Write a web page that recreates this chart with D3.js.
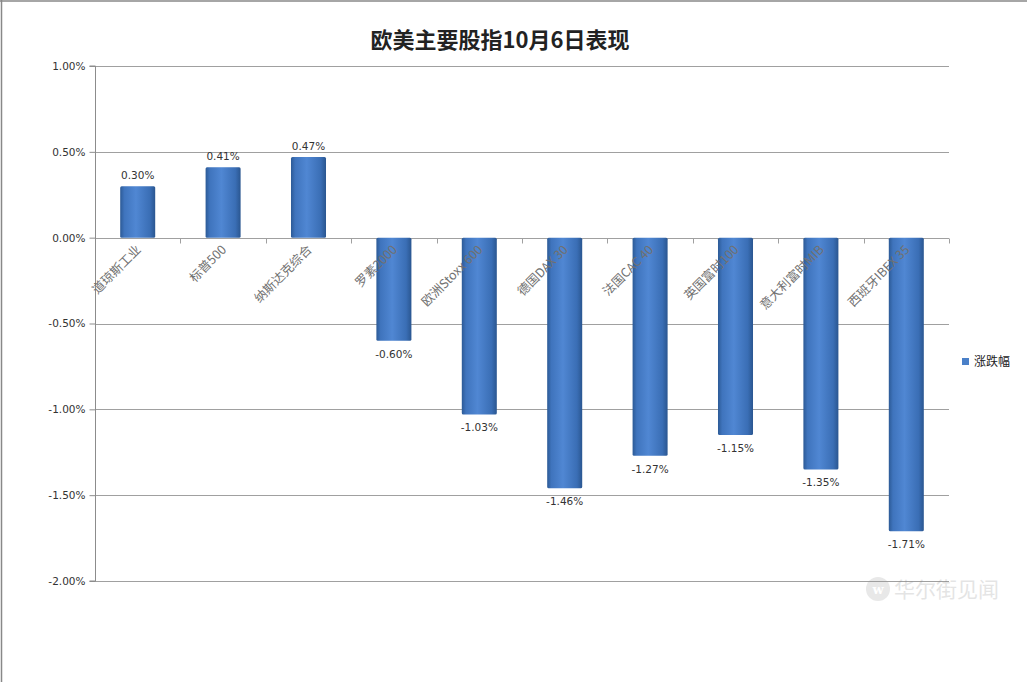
<!DOCTYPE html>
<html>
<head>
<meta charset="utf-8">
<script src="https://cdn.jsdelivr.net/npm/d3@7"></script>
<style>
  body { margin: 0; background: #fff; }
  svg { display: block; }
</style>
</head>
<body>
<svg id="chart" width="1027" height="682"></svg>
<script>
const categories = ["道琼斯工业", "标普500", "纳斯达克综合", "罗素2000", "欧洲Stoxx 600",
    "德国DAX 30", "法国CAC 40", "英国富时100", "意大利富时MIB", "西班牙IBEX 35"];
const changes = [0.30, 0.41, 0.47, -0.60, -1.03, -1.46, -1.27, -1.15, -1.35, -1.71];
const yTicks = [1.0, 0.5, 0, -0.5, -1.0, -1.5, -2.0];
const seriesName = "涨跌幅";
const title = "欧美主要股指10月6日表现";

const W = 1027, H = 682;
const PLOT_LEFT = 95, PLOT_RIGHT = 949, PLOT_TOP = 66, PLOT_BOTTOM = 581;

// plain hyphen instead of d3's unicode minus
const pct = d3.formatLocale({ decimal: ".", thousands: ",", grouping: [3], currency: ["", ""], minus: "-" })
    .format(".2f");
const fmtPct = d => pct(d) + "%";

const svg = d3.select("#chart");

// gradient for the bars (lighter centre, darker edges)
const defs = svg.append("defs");
const grad = defs.append("linearGradient").attr("id", "barGrad")
    .attr("x1", "0%").attr("x2", "100%").attr("y1", "0%").attr("y2", "0%");
grad.append("stop").attr("offset", "0%").attr("stop-color", "#2c5a96");
grad.append("stop").attr("offset", "12%").attr("stop-color", "#3f74bd");
grad.append("stop").attr("offset", "45%").attr("stop-color", "#5087d3");
grad.append("stop").attr("offset", "85%").attr("stop-color", "#3a6eb5");
grad.append("stop").attr("offset", "100%").attr("stop-color", "#2a5690");

// outer frame (top and left edges visible)
svg.append("line").attr("x1", 0).attr("x2", W).attr("y1", 1).attr("y2", 1)
    .attr("stroke", "#888").attr("stroke-width", 1.5);
svg.append("line").attr("x1", 1.5).attr("x2", 1.5).attr("y1", 0).attr("y2", H)
    .attr("stroke", "#888").attr("stroke-width", 1.5);

svg.append("text")
    .attr("x", 500).attr("y", 48)
    .attr("text-anchor", "middle")
    .style("font-family", "'Noto Sans CJK SC', sans-serif")
    .style("font-size", "22px")
    .style("font-weight", "bold")
    .style("fill", "#222")
    .text(title);

const x = d3.scaleBand()
    .domain(categories)
    .range([PLOT_LEFT, PLOT_RIGHT])
    .paddingInner(0.59)
    .paddingOuter(0.295);

const xBand = d3.scaleBand()
    .domain(categories)
    .range([PLOT_LEFT, PLOT_RIGHT]);

const y = d3.scaleLinear()
    .domain([-2, 1])
    .range([PLOT_BOTTOM, PLOT_TOP]);

// gridlines
svg.append("g")
    .selectAll("line")
    .data(yTicks)
    .join("line")
    .attr("x1", PLOT_LEFT).attr("x2", PLOT_RIGHT)
    .attr("y1", d => Math.round(y(d)) + 0.5).attr("y2", d => Math.round(y(d)) + 0.5)
    .attr("stroke", "#a0a0a0").attr("stroke-width", 1);

// y axis
const yAxis = svg.append("g")
    .attr("transform", `translate(${PLOT_LEFT + 0.5},0)`)
    .call(d3.axisLeft(y).tickValues(yTicks).tickSize(6).tickPadding(4)
        .tickFormat(fmtPct));
yAxis.select(".domain").attr("stroke", "#8c8c8c").attr("d", `M-6,${y(1)}H0V${y(-2)}H-6`);
yAxis.selectAll(".tick line").attr("stroke", "#8c8c8c");
yAxis.selectAll(".tick text")
    .style("font-family", "'DejaVu Sans', sans-serif")
    .style("font-size", "10.5px")
    .style("fill", "#333");

// category ticks on the zero line
const zeroY = Math.round(y(0)) + 0.5;
svg.append("g")
    .selectAll("line")
    .data(categories)
    .join("line")
    .attr("x1", d => Math.round(xBand(d) + xBand.step()) + 0.5)
    .attr("x2", d => Math.round(xBand(d) + xBand.step()) + 0.5)
    .attr("y1", zeroY).attr("y2", zeroY + 5)
    .attr("stroke", "#a0a0a0");

// bars
svg.append("g")
    .selectAll("rect")
    .data(categories)
    .join("rect")
    .attr("x", d => x(d))
    .attr("width", x.bandwidth())
    .attr("y", (d, i) => y(Math.max(0, changes[i])))
    .attr("height", (d, i) => Math.abs(y(changes[i]) - y(0)))
    .attr("rx", 1.5)
    .attr("fill", "url(#barGrad)");

// value labels
svg.append("g")
    .selectAll("text")
    .data(categories)
    .join("text")
    .attr("x", d => x(d) + x.bandwidth() / 2)
    .attr("y", (d, i) => changes[i] >= 0 ? y(changes[i]) - 7 : y(changes[i]) + 17)
    .attr("text-anchor", "middle")
    .style("font-family", "'DejaVu Sans', sans-serif")
    .style("font-size", "10.5px")
    .style("fill", "#333")
    .text((d, i) => fmtPct(changes[i]));

// rotated category labels
svg.append("g")
    .selectAll("text")
    .data(categories)
    .join("text")
    .attr("transform", d => `translate(${xBand(d) + xBand.step() / 2 + 4},${zeroY + 12}) rotate(-45)`)
    .attr("text-anchor", "end")
    .style("font-family", "'Noto Sans CJK SC', sans-serif")
    .style("font-size", "12.5px")
    .style("fill", "#707070")
    .text(d => d);

// legend
const legend = svg.append("g").attr("transform", "translate(962,362)");
legend.append("rect").attr("x", 0).attr("y", -4).attr("width", 7).attr("height", 7)
    .attr("fill", "#4a80c8");
legend.append("text").attr("x", 12).attr("y", 4)
    .style("font-family", "'Noto Sans CJK SC', sans-serif")
    .style("font-size", "12px")
    .style("fill", "#222")
    .text(seriesName);

// watermark
const wm = svg.append("g").attr("transform", "translate(878,589)").style("opacity", 0.22);
wm.append("circle").attr("r", 12).attr("fill", "#999");
wm.append("text").attr("y", 5).attr("text-anchor", "middle")
    .style("font-family", "'DejaVu Serif', serif").style("font-size", "13px")
    .style("font-weight", "bold").style("fill", "#fff").text("w");
wm.append("text").attr("x", 16).attr("y", 8)
    .style("font-family", "'Noto Sans CJK SC', sans-serif")
    .style("font-size", "21px").style("fill", "#888").text("华尔街见闻");
</script>
</body>
</html>
